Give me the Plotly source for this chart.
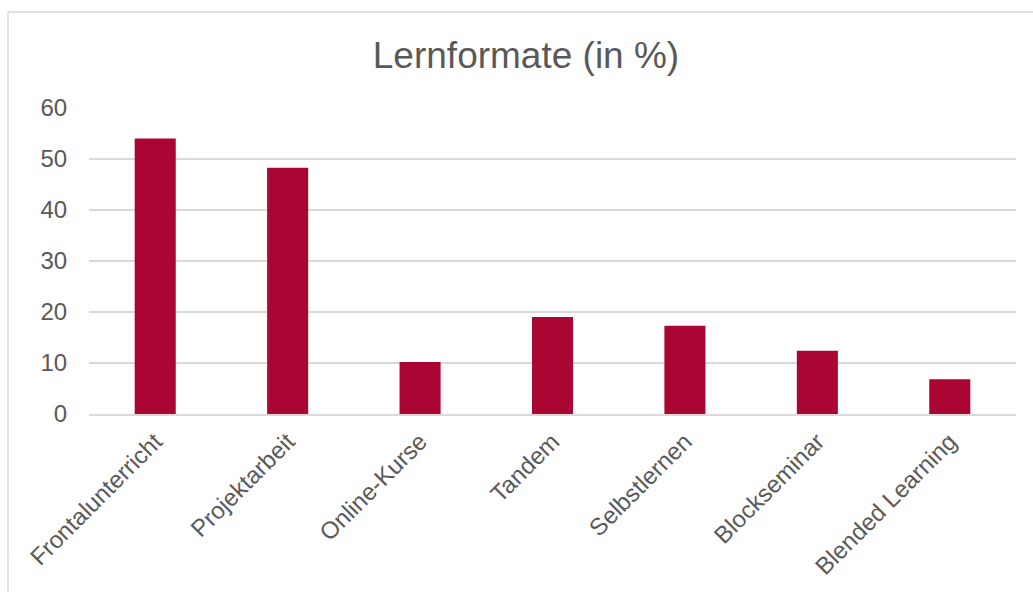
import plotly.graph_objects as go

categories = ["Frontalunterricht", "Projektarbeit", "Online-Kurse", "Tandem",
              "Selbstlernen", "Blockseminar", "Blended Learning"]
values = [54.0, 48.3, 10.2, 19.0, 17.3, 12.4, 6.8]
y_ticks = [0, 10, 20, 30, 40, 50, 60]

FONT = "Liberation Sans, Arial, sans-serif"
GRAY = "#595959"

fig = go.Figure(go.Bar(
    x=categories, y=values,
    marker=dict(color="#AB0534", line=dict(width=0)),
    width=0.31,
))

W, H = 1033, 592
L, R, T, B = 89, 17, 108, 178
pw, ph = W - L - R, H - T - B

fig.update_layout(
    width=W, height=H,
    margin=dict(l=L, r=R, t=T, b=B, pad=0),
    paper_bgcolor="white", plot_bgcolor="white",
    showlegend=False,
    title=dict(text="Lernformate (in %)", font=dict(family=FONT, size=37, color=GRAY),
               x=526 / W, xref="container", xanchor="center",
               y=1 - 55 / H, yref="container", yanchor="middle"),
    xaxis=dict(tickangle=-45, tickfont=dict(family=FONT, size=24, color=GRAY),
               showgrid=False, showline=True, linecolor="#d9d9d9", linewidth=2,
               ticks="outside", ticklen=2, tickcolor="rgba(0,0,0,0)"),
    yaxis=dict(range=[0, 60], tickvals=y_ticks, tickfont=dict(family=FONT, size=24, color=GRAY),
               showgrid=True, gridcolor="#d9d9d9", gridwidth=1.5, zeroline=False,
               showline=False, ticks="outside", ticklen=16, tickcolor="rgba(0,0,0,0)"),
    shapes=[
        dict(type="line", xref="paper", yref="paper",
             x0=(8 - L) / pw, x1=1.1, y0=(H - B - 12) / ph, y1=(H - B - 12) / ph,
             line=dict(color="#d9d9d9", width=1.5)),
        dict(type="line", xref="paper", yref="paper",
             x0=(8 - L) / pw, x1=(8 - L) / pw, y0=(H - B - 12) / ph, y1=-1,
             line=dict(color="#d9d9d9", width=1.5)),
    ],
)

fig.write_html("out.html")
